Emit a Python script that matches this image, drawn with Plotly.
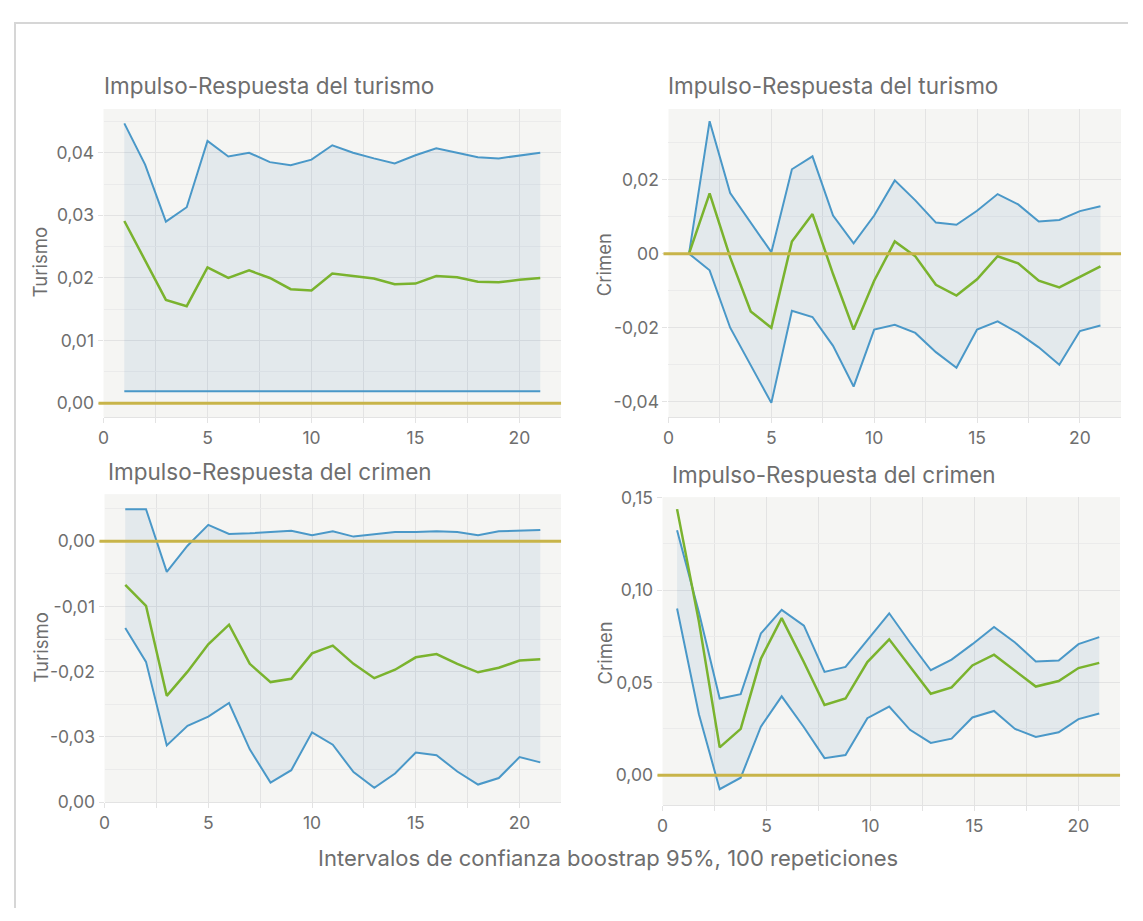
import plotly.graph_objects as go

# horizonte de la respuesta (periodos)
pasos = [1, 2, 3, 4, 5, 6, 7, 8, 9, 10, 11, 12, 13, 14, 15, 16, 17, 18, 19, 20, 21]
pasos_crimen = [0.7, 1.75, 2.75, 3.76, 4.73, 5.73, 6.8, 7.79, 8.8, 9.85, 10.9,
                11.9, 12.9, 13.9, 14.9, 15.94, 16.95, 17.95, 19.05, 20.0, 21.0]

# turismo -> turismo
tt_sup = [0.0447, 0.0381, 0.0290, 0.0313, 0.0419, 0.0394, 0.0400, 0.0385, 0.0380, 0.0389, 0.0412,
          0.0400, 0.0391, 0.0383, 0.0396, 0.0407, 0.0400, 0.0393, 0.0391, 0.0395, 0.0400]
tt_irf = [0.0291, 0.0227, 0.0165, 0.0155, 0.0217, 0.0200, 0.0212, 0.0200, 0.0182, 0.0180, 0.0207,
          0.0203, 0.0199, 0.0190, 0.0191, 0.0203, 0.0201, 0.0194, 0.0193, 0.0197, 0.0200]
tt_inf = [0.0019] * 21

# turismo -> crimen
tc_sup = [0.0, 0.0358, 0.0164, 0.0085, 0.0004, 0.0228, 0.0263, 0.0103, 0.0028, 0.0103, 0.0198,
          0.0144, 0.0084, 0.0078, 0.0116, 0.0161, 0.0133, 0.0087, 0.0091, 0.0115, 0.0128]
tc_irf = [0.0, 0.0163, -0.0010, -0.0156, -0.0200, 0.0033, 0.0107, -0.0055, -0.0205, -0.0073, 0.0033,
          -0.0007, -0.0084, -0.0113, -0.0069, -0.0007, -0.0026, -0.0073, -0.0091, -0.0062, -0.0034]
tc_inf = [0.0, -0.0045, -0.0200, -0.0302, -0.0403, -0.0154, -0.0171, -0.0249, -0.0359, -0.0205, -0.0192,
          -0.0214, -0.0266, -0.0308, -0.0205, -0.0183, -0.0214, -0.0253, -0.0300, -0.0209, -0.0194]

# crimen -> turismo
ct_sup = [0.0049, 0.0049, -0.0047, -0.0007, 0.0025, 0.0011, 0.0012, 0.0014, 0.0016, 0.0009, 0.0015,
          0.0007, 0.0011, 0.0014, 0.0014, 0.0015, 0.0014, 0.0009, 0.0015, 0.0016, 0.0017]
ct_irf = [-0.0067, -0.0099, -0.0237, -0.0200, -0.0158, -0.0128, -0.0188, -0.0216, -0.0211, -0.0172, -0.0160,
          -0.0188, -0.0210, -0.0197, -0.0178, -0.0173, -0.0188, -0.0201, -0.0194, -0.0183, -0.0181]
ct_inf = [-0.0133, -0.0185, -0.0313, -0.0283, -0.0269, -0.0248, -0.0319, -0.0370, -0.0351, -0.0293, -0.0312,
          -0.0354, -0.0378, -0.0356, -0.0324, -0.0328, -0.0353, -0.0373, -0.0363, -0.0331, -0.0339]

# crimen -> crimen
cc_sup = [0.1324, 0.0880, 0.0414, 0.0438, 0.0766, 0.0893, 0.0808, 0.0558, 0.0585, 0.0730, 0.0875,
          0.0717, 0.0567, 0.0625, 0.0708, 0.0801, 0.0717, 0.0614, 0.0620, 0.0708, 0.0746]
cc_irf = [0.1438, 0.0830, 0.0150, 0.0250, 0.0629, 0.0849, 0.0610, 0.0379, 0.0414, 0.0611, 0.0734,
          0.0585, 0.0440, 0.0474, 0.0593, 0.0651, 0.0565, 0.0479, 0.0509, 0.0579, 0.0607]
cc_inf = [0.0901, 0.0329, -0.0076, -0.0014, 0.0262, 0.0426, 0.0259, 0.0092, 0.0109, 0.0308, 0.0371,
          0.0245, 0.0174, 0.0197, 0.0312, 0.0347, 0.0250, 0.0206, 0.0232, 0.0303, 0.0333]

# etiquetas de los ejes (tal cual aparecen)
x_ticks = [0, 5, 10, 15, 20]
y_tt_vals = [0.0, 0.01, 0.02, 0.03, 0.04]
y_tt_text = ["0,00", "0,01", "0,02", "0,03", "0,04"]
y_tc_vals = [-0.04, -0.02, 0.0, 0.02]
y_tc_text = ["-0,04", "-0,02", "00", "0,02"]
y_ct_vals = [-0.04, -0.03, -0.02, -0.01, 0.0]
y_ct_text = ["0,00", "-0,03", "-0,02", "-0,01", "0,00"]
y_cc_vals = [0.0, 0.05, 0.10, 0.15]
y_cc_text = ["0,00", "0,05", "0,10", "0,15"]

# la pagina deja 8 px de margen: la figura se dibuja desde (8, 8)
OFF = 8
W, H = 1120, 900
AZUL = "#4a98c8"
VERDE = "#7ab32e"
ORO = "#c8b449"
GRIS = "#6e6e6e"
REJILLA = "#e3e3e3"
FONT = "Inter"


def fx(x):
    return (x - OFF) / W


def fy(y):
    return 1 - (y - OFF) / H


def px(x0, x1):
    return [fx(x0), fx(x1)]


def py(top, bottom):
    return [fy(bottom), fy(top)]


paneles = [
    # (x, sup, irf, inf, dominio x, dominio y, rango y, ticks y, texto y, minor y)
    (pasos, tt_sup, tt_irf, tt_inf, px(98, 558), py(101, 416), [-0.0022, 0.0470], y_tt_vals, y_tt_text, 0.005),
    (pasos, tc_sup, tc_irf, tc_inf, px(666, 1121), py(101, 416), [-0.0441, 0.0391], y_tc_vals, y_tc_text, 0.01),
    (pasos, ct_sup, ct_irf, ct_inf, px(99, 558), py(495, 810), [-0.0400, 0.0072], y_ct_vals, y_ct_text, 0.005),
    (pasos_crimen, cc_sup, cc_irf, cc_inf, px(660, 1120), py(498, 813), [-0.0162, 0.1503], y_cc_vals, y_cc_text, 0.025),
]

fig = go.Figure()
layout_axes = {}
shapes = []

for i, (xs, sup, irf, inf, dx, dy, ry, tv, tt, minor_y) in enumerate(paneles, start=1):
    xa = "x" if i == 1 else f"x{i}"
    ya = "y" if i == 1 else f"y{i}"
    fig.add_trace(go.Scatter(x=xs, y=inf, mode="lines", line=dict(color=AZUL, width=2),
                             xaxis=xa, yaxis=ya, showlegend=False, hoverinfo="skip"))
    fig.add_trace(go.Scatter(x=xs, y=sup, mode="lines", line=dict(color=AZUL, width=2),
                             fill="tonexty", fillcolor="rgba(70,130,180,0.10)",
                             xaxis=xa, yaxis=ya, showlegend=False, hoverinfo="skip"))
    fig.add_trace(go.Scatter(x=xs, y=irf, mode="lines", line=dict(color=VERDE, width=2.5),
                             xaxis=xa, yaxis=ya, showlegend=False))

    layout_axes["xaxis" if i == 1 else f"xaxis{i}"] = dict(
        domain=dx, anchor=ya, range=[0, 22], tickvals=x_ticks,
        showgrid=True, gridcolor=REJILLA, zeroline=False,
        showline=True, linecolor=REJILLA, linewidth=1,
        ticks="outside", ticklen=5, tickcolor=REJILLA,
        minor=dict(dtick=2.5, tick0=0, showgrid=True, gridcolor=REJILLA,
                   ticks="outside", ticklen=5, tickcolor=REJILLA),
        tickfont=dict(family=FONT, size=17.5, color=GRIS),
    )
    layout_axes["yaxis" if i == 1 else f"yaxis{i}"] = dict(
        domain=dy, anchor=xa, range=ry, tickvals=tv, ticktext=tt,
        showgrid=True, gridcolor=REJILLA, zeroline=False,
        ticks="outside", ticklen=5, tickcolor=REJILLA,
        minor=dict(dtick=minor_y, tick0=0, showgrid=True, gridcolor="#ebebeb"),
        tickfont=dict(family=FONT, size=17.5, color=GRIS),
    )
    shapes.append(dict(type="line", xref=f"{xa} domain", yref=ya,
                       x0=-0.011, x1=1, y0=0, y1=0,
                       line=dict(color=ORO, width=3), layer="above"))

# borde exterior de la tarjeta
shapes.append(dict(type="rect", xref="paper", yref="paper",
                   x0=fx(9), x1=1.05, y0=-0.05, y1=fy(13),
                   line=dict(color="#d6d6d6", width=2), layer="below"))

titulos = [
    ("Impulso-Respuesta del turismo", 96, 77),
    ("Impulso-Respuesta del turismo", 664, 77),
    ("Impulso-Respuesta del crimen", 100, 472),
    ("Impulso-Respuesta del crimen", 668, 475),
]
annotations = []
for txt, x, y in titulos:
    annotations.append(dict(text=txt, xref="paper", yref="paper", x=fx(x), y=fy(y),
                            xanchor="left", yanchor="middle", showarrow=False,
                            font=dict(family=FONT, size=22.5, color=GRIS)))

ejes_y = [("Turismo", 35, 258), ("Crimen", 602, 260), ("Turismo", 35, 652), ("Crimen", 602, 657)]
for txt, x, y in ejes_y:
    annotations.append(dict(text=txt, xref="paper", yref="paper", x=fx(x), y=fy(y),
                            xanchor="center", yanchor="middle", textangle=-90, showarrow=False,
                            font=dict(family=FONT, size=18.5, color=GRIS)))

annotations.append(dict(text="Intervalos de confianza boostrap 95%, 100 repeticiones",
                        xref="paper", yref="paper", x=fx(605), y=fy(867),
                        xanchor="center", yanchor="middle", showarrow=False,
                        font=dict(family=FONT, size=22, color=GRIS)))

fig.update_layout(
    width=W, height=H,
    margin=dict(l=0, r=0, t=0, b=0),
    paper_bgcolor="white",
    plot_bgcolor="#f5f5f3",
    shapes=shapes,
    annotations=annotations,
    **layout_axes,
)

fig.write_html("out.html")
